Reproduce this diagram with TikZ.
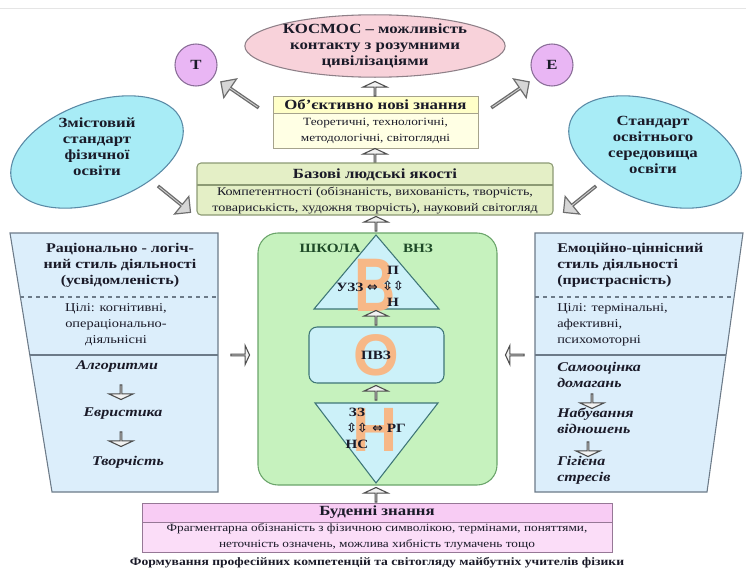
\documentclass[tikz,border=0pt]{standalone}
\usepackage{fontspec}
\setmainfont{Liberation Serif}[FakeStretch=1.2]
\newfontfamily\arrfont{DejaVu Sans}
\newfontfamily\bigfont{Liberation Sans}[BoldFont={Liberation Sans Bold}]
\usetikzlibrary{shapes.geometric,shapes.arrows}
\definecolor{inkc}{HTML}{1A1A28}
\definecolor{cosfill}{HTML}{F8D2DA}
\definecolor{cosdraw}{HTML}{8E8088}
\definecolor{tefill}{HTML}{E9B6F4}
\definecolor{tedraw}{HTML}{8A6E98}
\definecolor{objtop}{HTML}{FFFFC8}
\definecolor{objbot}{HTML}{FFFFE4}
\definecolor{objdraw}{HTML}{A6A38C}
\definecolor{basefill}{HTML}{E4EFC6}
\definecolor{basedraw}{HTML}{8C9A74}
\definecolor{ellfill}{HTML}{A8ECF6}
\definecolor{elldraw}{HTML}{5A8AA6}
\definecolor{trapfill}{HTML}{DCEEFB}
\definecolor{trapdraw}{HTML}{6C7A88}
\definecolor{vnzfill}{HTML}{C6F2BE}
\definecolor{vnzdraw}{HTML}{6AA46A}
\definecolor{trifill}{HTML}{CCF1F9}
\definecolor{tridraw}{HTML}{3E7676}
\definecolor{orng}{HTML}{F7B887}
\definecolor{budtop}{HTML}{F8CCF4}
\definecolor{budbot}{HTML}{FBDDF8}
\definecolor{buddraw}{HTML}{967896}
\definecolor{arrfill}{HTML}{D6D6D6}
\definecolor{arrdraw}{HTML}{6E6E6E}
\definecolor{schgreen}{HTML}{1E4A28}
\newcommand{\fhead}{\fontsize{10.5}{10.5}\selectfont\bfseries}
\newcommand{\fcos}{\fontsize{10.5}{9.8}\selectfont\bfseries}
\newcommand{\fbody}{\fontsize{8.3}{9}\selectfont}
\newcommand{\fbodyL}{\fontsize{8.8}{9}\selectfont}
\newcommand{\fell}{\fontsize{10.5}{12.4}\selectfont\bfseries}
\newcommand{\fside}{\fontsize{10}{13}\selectfont\bfseries}
\newcommand{\fgoal}{\fontsize{9}{12}\selectfont}
\newcommand{\fital}{\fontsize{10}{12}\selectfont\bfseries\itshape}
\newcommand{\ftri}{\fontsize{9.5}{10.5}\selectfont\bfseries}
\begin{document}
\begin{tikzpicture}[x=0.75pt,y=-0.75pt,
  txt/.style={inner sep=0pt,align=center,text=inkc},
  bigarr/.style={single arrow,draw=arrdraw,fill=arrfill,line width=0.9pt,inner sep=0pt,
    minimum width=17pt,single arrow head extend=4pt,minimum height=34pt},
  smarr/.style={single arrow,draw=arrdraw!70!black,fill=white!90!gray,line width=0.8pt,inner sep=0pt,
    minimum width=18pt,single arrow head extend=5.5pt,single arrow tip angle=130,minimum height=11pt},
  bigl/.style={inner sep=0pt,text=orng,font=\bigfont\bfseries}]
\useasboundingbox (0,0) rectangle (746,571);
\draw[gray!20] (0,8) -- (746,8);

% top row
\node(cosmos) at (375,46)[ellipse,draw=cosdraw,fill=cosfill,line width=0.8pt,
  minimum width=187.5pt,minimum height=46.5pt,txt]{\fcos КОСМОС -- можливість\\\fcos контакту з розумними\\\fcos цивілізаціями};
\node(tcirc) at (196,65)[circle,draw=tedraw,fill=tefill,line width=0.8pt,minimum size=31.5pt,txt]{\fhead Т};
\node(ecirc) at (552,65)[circle,draw=tedraw,fill=tefill,line width=0.8pt,minimum size=31.5pt,txt]{\fhead Е};

\node(objT) at (375.5,105)[draw=objdraw,fill=objtop,minimum width=153.75pt,minimum height=12.75pt,txt]{\fhead Об’єктивно нові знання};
\node(objB) at (375.5,130.75)[draw=objdraw,fill=objbot,minimum width=153.75pt,minimum height=25.9pt,txt]{\fbody Теоретичні, технологічні,\\\fbody методологічні, світоглядні};

\node(arrT) at (240,95)[bigarr,rotate=145.6]{};
\node(arrE) at (510,95)[bigarr,rotate=34.4]{};
\node(arrC) at (375,89)[smarr,rotate=90]{};
\node(arrO) at (375,156)[smarr,rotate=90]{};

% base qualities
\node(base) at (375,189)[draw=basedraw,fill=basefill,rounded corners=3pt,line width=0.8pt,
  minimum width=267pt,minimum height=39pt]{};
\draw[basedraw,line width=0.8pt] (197,185) -- (553,185);
\node(baseT) at (375,174.5)[txt]{\fhead Базові людські якості};
\node(baseB) at (375,201)[txt]{\fbodyL Компетентності (обізнаність, вихованість, творчість,\\\fbodyL товариськість, художня творчість), науковий світогляд};

% standards
\node(stdL) at (97,152)[ellipse,rotate=20,draw=elldraw,fill=ellfill,line width=0.8pt,
  minimum width=135pt,minimum height=75pt]{};
\node(stdLtxt) at (97,147)[txt]{\fell Змістовий\\\fell стандарт\\\fell фізичної\\\fell освіти};
\node(stdR) at (655,152)[ellipse,rotate=-20,draw=elldraw,fill=ellfill,line width=0.8pt,
  minimum width=135pt,minimum height=75pt]{};
\node(stdRtxt) at (653,145)[txt]{\fell Стандарт\\\fell освітнього\\\fell середовища\\\fell освіти};
\node(arrL) at (174,199)[bigarr,rotate=-39,minimum height=31pt]{};
\node(arrR) at (580,199)[bigarr,rotate=-141,minimum height=31pt]{};

% left style
\draw[draw=trapdraw,fill=trapfill,line width=0.8pt] (10,233) -- (218,233) -- (218,492) -- (52,492) -- cycle;
\draw[trapdraw,dashed,line width=0.8pt] (20.4,297) -- (218,297);
\draw[trapdraw,line width=0.8pt] (29.8,355) -- (218,355);
\node(ratT) at (120,265)[txt]{\fside Раціонально - логіч-\\\fside ний стиль діяльності\\\fside (усвідомленість)};
\node(ratG) at (116,325)[txt]{\fgoal Цілі: когнітивні,\\\fgoal операціонально-\\\fgoal діяльнісні};
\node(alg) at (117,367)[txt]{\fital Алгоритми};
\node(evr) at (123,414)[txt]{\fital Евристика};
\node(tvo) at (128,462)[txt]{\fital Творчість};
\node(dl1) at (121,392)[smarr,rotate=-90]{};
\node(dl2) at (121,439)[smarr,rotate=-90]{};

% right style
\draw[draw=trapdraw,fill=trapfill,line width=0.8pt] (535,233) -- (743,233) -- (707,492) -- (535,492) -- cycle;
\draw[trapdraw,dashed,line width=0.8pt] (535,297) -- (734,297);
\draw[trapdraw,line width=0.8pt] (535,355) -- (726,355);
\node(emoT) at (557,265)[txt,anchor=west,align=left]{\fside Емоційно-ціннісний\\\fside стиль діяльності\\\fside (пристрасність)};
\node(emoG) at (557,325)[txt,anchor=west,align=left]{\fgoal Цілі: термінальні,\\\fgoal афективні,\\\fgoal психомоторні};
\node(sam) at (557,375)[txt,anchor=west,align=left]{\fital Самооцінка\\\fital домагань};
\node(nab) at (557,421)[txt,anchor=west,align=left]{\fital Набування\\\fital відношень};
\node(gig) at (557,470)[txt,anchor=west,align=left]{\fital Гігієна\\\fital стресів};
\node(dr1) at (592,401)[smarr,rotate=-90]{};
\node(dr2) at (588,449)[smarr,rotate=-90]{};

\node(sideL) at (240,355)[smarr,minimum height=14pt,minimum width=14pt,single arrow head extend=3.5pt]{};
\node(sideR) at (515,355)[smarr,rotate=180,minimum height=14pt,minimum width=14pt,single arrow head extend=3.5pt]{};

% school - university column
\node(vnz) at (377.5,359)[draw=vnzdraw,fill=vnzfill,rounded corners=15pt,line width=0.8pt,
  minimum width=179.25pt,minimum height=189pt]{};
\node(arrV) at (376,224)[smarr,rotate=90]{};
\draw[draw=tridraw,fill=trifill,line width=0.8pt] (376,235) -- (439,309) -- (314,309) -- cycle;
\node(letB) at (375,285)[bigl,xscale=0.75]{\fontsize{57}{57}\selectfont В};
\node(shk) at (330,248)[txt,text=schgreen]{\ftri ШКОЛА};
\node(vnzl) at (418,248)[txt,text=schgreen]{\ftri ВНЗ};
\node(uzz) at (357,287)[txt]{\ftri УЗЗ {\arrfont ⇔}};
\node(pn) at (393,286)[txt]{\ftri П\\{\ftri\arrfont ⇳⇳}\\\ftri Н};
\node(arrP) at (376,318)[smarr,rotate=90]{};

\node(pvz) at (376.5,355)[draw=tridraw,fill=trifill,rounded corners=6pt,line width=0.8pt,
  minimum width=101.25pt,minimum height=42pt]{};
\node(letO) at (376,355)[bigl]{\fontsize{44}{44}\selectfont О};
\node(pvzt) at (376,355)[txt]{\ftri ПВЗ};
\node(arrN) at (376,393)[smarr,rotate=90]{};

\draw[draw=tridraw,fill=trifill,line width=0.8pt] (315,403) -- (438,403) -- (376,483) -- cycle;
\node(letN) at (375,430)[bigl]{\fontsize{47}{47}\selectfont Н};
\node(zzns) at (357,428)[txt]{\ftri ЗЗ\\{\ftri\arrfont ⇳⇳}\\\ftri НС};
\node(rg) at (372,428)[txt,anchor=west]{{\ftri\arrfont ⇔} \ftri РГ};
\node(arrB) at (376,495)[smarr,rotate=90]{};

% everyday knowledge
\node(budT) at (377,512.5)[draw=buddraw,fill=budtop,minimum width=352.5pt,minimum height=14.25pt,txt]{\fhead Буденні знання};
\node(budB) at (377,537)[draw=buddraw,fill=budbot,minimum width=352.5pt,minimum height=22.5pt,txt]{\fbody Фрагментарна обізнаність з фізичною символікою, термінами, поняттями,\\\fbody неточність означень, можлива хибність тлумачень тощо};
\node(capt) at (377,563)[txt]{\fontsize{8.5}{9}\selectfont\bfseries Формування професійних компетенцій та світогляду майбутніх учителів фізики};
\end{tikzpicture}
\end{document}
